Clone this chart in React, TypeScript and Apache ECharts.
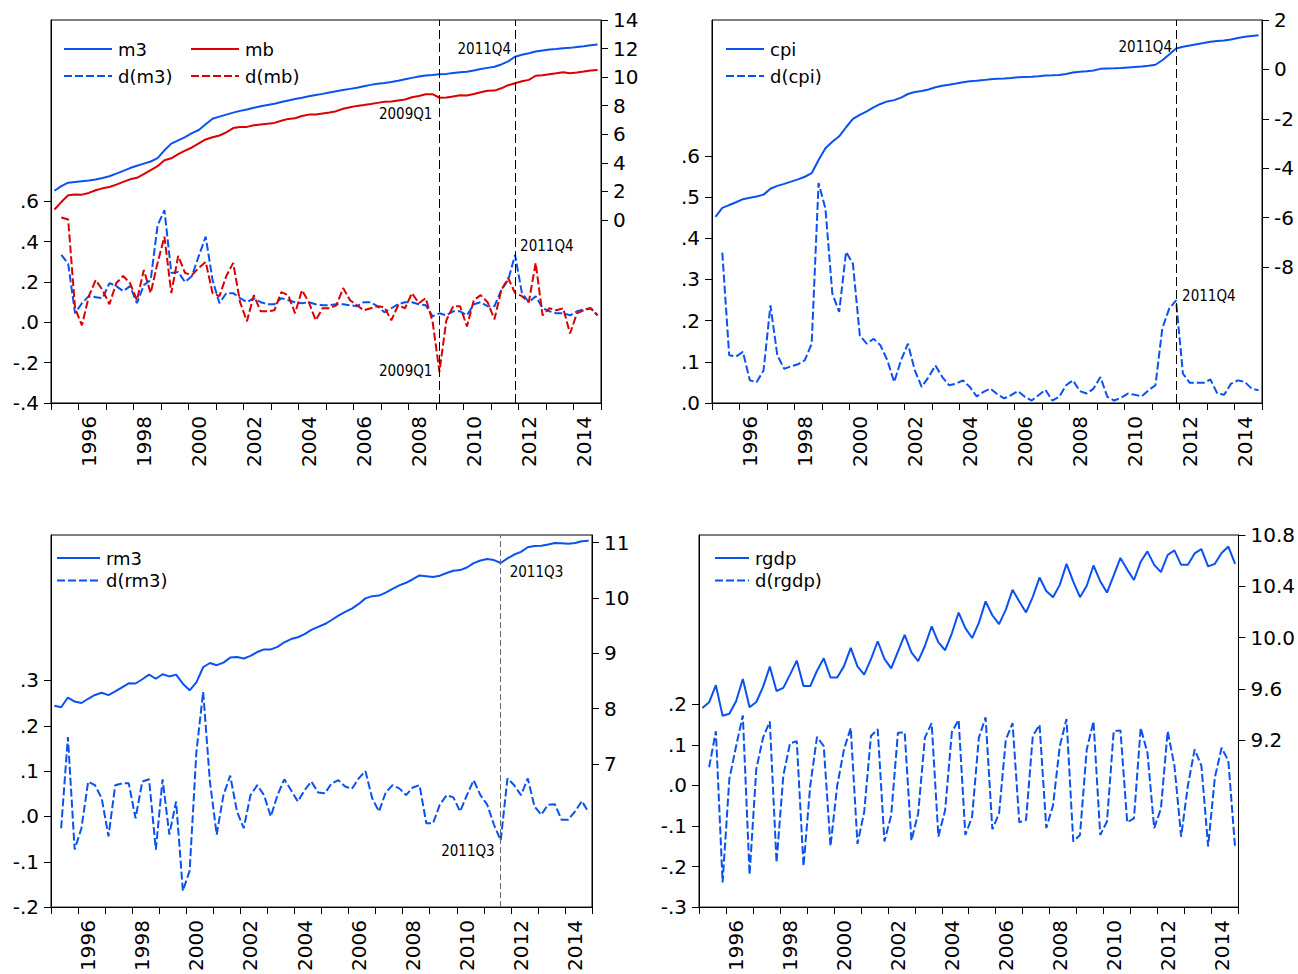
import React, { useEffect, useRef } from "react";
import * as echarts from "echarts";

const QUARTERS: string[] = [];
for (let y = 1995; y <= 2014; y++) for (let q = 1; q <= 4; q++) QUARTERS.push(`${y}Q${q}`);

const M3 = [
  2.05, 2.38, 2.62, 2.67, 2.72, 2.77, 2.84, 2.95, 3.07, 3.25, 3.44, 3.64, 3.8, 3.95, 4.1, 4.33,
  4.88, 5.35, 5.58, 5.81, 6.09, 6.3, 6.7, 7.09, 7.24, 7.38, 7.52, 7.64, 7.74, 7.86, 7.96, 8.05,
  8.14, 8.26, 8.37, 8.47, 8.56, 8.66, 8.75, 8.83, 8.92, 9.01, 9.1, 9.18, 9.26, 9.36, 9.46, 9.54,
  9.59, 9.66, 9.75, 9.85, 9.95, 10.04, 10.12, 10.15, 10.2, 10.23, 10.29, 10.34, 10.38, 10.47, 10.57, 10.65,
  10.73, 10.89, 11.1, 11.43, 11.57, 11.67, 11.8, 11.87, 11.93, 11.97, 12.02, 12.05, 12.11, 12.17, 12.24, 12.28,
];
const MB = [
  0.74, 1.26, 1.74, 1.79, 1.78, 1.9, 2.09, 2.22, 2.31, 2.48, 2.67, 2.85, 2.96, 3.22, 3.49, 3.77,
  4.19, 4.32, 4.62, 4.86, 5.08, 5.36, 5.64, 5.79, 5.92, 6.14, 6.44, 6.52, 6.52, 6.64, 6.69, 6.74,
  6.8, 6.95, 7.08, 7.12, 7.28, 7.38, 7.39, 7.46, 7.53, 7.62, 7.79, 7.9, 7.99, 8.05, 8.12, 8.2,
  8.28, 8.29, 8.37, 8.44, 8.59, 8.68, 8.8, 8.81, 8.56, 8.57, 8.65, 8.73, 8.71, 8.82, 8.95, 9.05,
  9.06, 9.22, 9.44, 9.58, 9.71, 9.81, 10.1, 10.14, 10.21, 10.27, 10.34, 10.28, 10.33, 10.39, 10.46, 10.5,
];
const D_M3 = [
  null, 0.335, 0.29, 0.045, 0.095, 0.13, 0.125, 0.12, 0.195, 0.18, 0.155, 0.18, 0.095, 0.185, 0.21, 0.48,
  0.557, 0.245, 0.25, 0.2, 0.23, 0.33, 0.425, 0.21, 0.095, 0.145, 0.145, 0.12, 0.1, 0.12, 0.1, 0.09,
  0.09, 0.12, 0.11, 0.1, 0.095, 0.1, 0.09, 0.085, 0.085, 0.09, 0.09, 0.085, 0.08, 0.1, 0.1, 0.08,
  0.05, 0.07, 0.09, 0.1, 0.1, 0.09, 0.085, 0.03, 0.045, 0.035, 0.055, 0.055, 0.035, 0.09, 0.1, 0.08,
  0.08, 0.16, 0.21, 0.335, 0.145, 0.1, 0.13, 0.07, 0.055, 0.045, 0.045, 0.035, 0.055, 0.065, 0.07, 0.035,
];
const D_MB = [
  null, 0.52, 0.51, 0.07, -0.015, 0.13, 0.21, 0.16, 0.09, 0.195, 0.23, 0.195, 0.11, 0.26, 0.145, 0.295,
  0.425, 0.145, 0.33, 0.245, 0.235, 0.27, 0.3, 0.145, 0.13, 0.23, 0.295, 0.1, 0.005, 0.135, 0.055, 0.055,
  0.06, 0.15, 0.135, 0.045, 0.16, 0.1, 0.01, 0.07, 0.07, 0.085, 0.17, 0.11, 0.085, 0.06, 0.07, 0.08,
  0.075, 0.01, 0.085, 0.07, 0.145, 0.095, 0.12, 0.005, -0.245, 0.01, 0.08, 0.08, -0.02, 0.11, 0.135, 0.1,
  0.015, 0.16, 0.22, 0.145, 0.13, 0.1, 0.295, 0.035, 0.07, 0.06, 0.07, -0.055, 0.045, 0.06, 0.07, 0.035,
];
const CPI = [
  -5.97, -5.605, -5.489, -5.376, -5.252, -5.197, -5.146, -5.067, -4.83, -4.714, -4.631, -4.542, -4.448, -4.344, -4.2, -3.666,
  -3.194, -2.928, -2.707, -2.34, -2.002, -1.838, -1.694, -1.538, -1.398, -1.294, -1.243, -1.139, -0.995, -0.916, -0.877, -0.814,
  -0.723, -0.66, -0.617, -0.57, -0.515, -0.476, -0.46, -0.433, -0.398, -0.377, -0.366, -0.347, -0.318, -0.303, -0.297, -0.278,
  -0.246, -0.24, -0.225, -0.182, -0.127, -0.098, -0.075, -0.04, 0.023, 0.038, 0.044, 0.057, 0.08, 0.1, 0.116, 0.147,
  0.19, 0.371, 0.6, 0.849, 0.92, 0.969, 1.018, 1.067, 1.124, 1.147, 1.167, 1.214, 1.269, 1.32, 1.355, 1.386,
];
const D_CPI = [
  null, 0.365, 0.116, 0.113, 0.124, 0.055, 0.051, 0.079, 0.237, 0.116, 0.083, 0.089, 0.094, 0.104, 0.144, 0.534,
  0.472, 0.266, 0.221, 0.367, 0.338, 0.164, 0.144, 0.156, 0.14, 0.104, 0.051, 0.104, 0.144, 0.079, 0.039, 0.063,
  0.091, 0.063, 0.043, 0.047, 0.055, 0.039, 0.016, 0.027, 0.035, 0.021, 0.011, 0.019, 0.029, 0.015, 0.006, 0.019,
  0.032, 0.006, 0.015, 0.043, 0.055, 0.029, 0.023, 0.035, 0.063, 0.015, 0.006, 0.013, 0.023, 0.02, 0.016, 0.031,
  0.043, 0.181, 0.229, 0.249, 0.071, 0.049, 0.049, 0.049, 0.057, 0.023, 0.02, 0.047, 0.055, 0.051, 0.035, 0.031,
];
const RM3 = [
  8.05, 8.024, 8.199, 8.126, 8.1, 8.177, 8.246, 8.286, 8.242, 8.311, 8.384, 8.457, 8.453, 8.53, 8.612, 8.539,
  8.621, 8.581, 8.614, 8.45, 8.33, 8.472, 8.747, 8.824, 8.784, 8.831, 8.921, 8.932, 8.906, 8.953, 9.022, 9.069,
  9.069, 9.116, 9.198, 9.256, 9.289, 9.347, 9.424, 9.477, 9.528, 9.601, 9.681, 9.747, 9.808, 9.892, 9.992, 10.032,
  10.043, 10.096, 10.165, 10.227, 10.274, 10.338, 10.407, 10.392, 10.377, 10.403, 10.45, 10.492, 10.503, 10.55, 10.63, 10.677,
  10.703, 10.685, 10.632, 10.716, 10.785, 10.832, 10.916, 10.938, 10.942, 10.968, 10.995, 10.988, 10.981, 10.992, 11.026, 11.035,
];
const D_RM3 = [
  null, -0.026, 0.175, -0.073, -0.026, 0.077, 0.069, 0.04, -0.044, 0.069, 0.073, 0.073, -0.004, 0.077, 0.082, -0.073,
  0.082, -0.04, 0.033, -0.164, -0.12, 0.142, 0.275, 0.077, -0.04, 0.047, 0.09, 0.011, -0.026, 0.047, 0.069, 0.047,
  0.0, 0.047, 0.082, 0.058, 0.033, 0.058, 0.077, 0.053, 0.051, 0.073, 0.08, 0.066, 0.061, 0.084, 0.1, 0.04,
  0.011, 0.053, 0.069, 0.062, 0.047, 0.064, 0.069, -0.015, -0.015, 0.026, 0.047, 0.042, 0.011, 0.047, 0.08, 0.047,
  0.026, -0.018, -0.053, 0.084, 0.069, 0.047, 0.084, 0.022, 0.004, 0.026, 0.027, -0.007, -0.007, 0.011, 0.034, 0.009,
];
const RGDP = [
  9.45, 9.495, 9.629, 9.39, 9.406, 9.503, 9.676, 9.456, 9.497, 9.615, 9.773, 9.583, 9.607, 9.711, 9.82, 9.621,
  9.621, 9.741, 9.838, 9.688, 9.688, 9.777, 9.919, 9.775, 9.71, 9.832, 9.971, 9.833, 9.76, 9.89, 10.021, 9.885,
  9.816, 9.934, 10.088, 9.962, 9.901, 10.033, 10.195, 10.073, 9.996, 10.114, 10.282, 10.174, 10.105, 10.218, 10.372, 10.281,
  10.196, 10.318, 10.468, 10.363, 10.314, 10.411, 10.575, 10.437, 10.315, 10.404, 10.562, 10.44, 10.351, 10.485, 10.621, 10.53,
  10.449, 10.591, 10.672, 10.567, 10.51, 10.644, 10.68, 10.567, 10.567, 10.656, 10.69, 10.555, 10.575, 10.66, 10.71, 10.575,
];
const D_RGDP = [
  null, 0.045, 0.134, -0.239, 0.016, 0.097, 0.173, -0.22, 0.041, 0.118, 0.158, -0.19, 0.024, 0.104, 0.109, -0.199,
  0.0, 0.12, 0.097, -0.15, 0.0, 0.089, 0.142, -0.144, -0.065, 0.122, 0.139, -0.138, -0.073, 0.13, 0.131, -0.136,
  -0.069, 0.118, 0.154, -0.126, -0.061, 0.132, 0.162, -0.122, -0.077, 0.118, 0.168, -0.108, -0.069, 0.113, 0.154, -0.091,
  -0.085, 0.122, 0.15, -0.105, -0.049, 0.097, 0.164, -0.138, -0.122, 0.089, 0.158, -0.122, -0.089, 0.134, 0.136, -0.091,
  -0.081, 0.142, 0.081, -0.105, -0.057, 0.134, 0.049, -0.126, 0.0, 0.089, 0.049, -0.15, 0.02, 0.093, 0.061, -0.154,
];

const LEFT_TICKS_1 = [-0.4, -0.2, 0, 0.2, 0.4, 0.6];
const RIGHT_TICKS_1 = [0, 2, 4, 6, 8, 10, 12, 14];
const LEFT_TICKS_2 = [0, 0.1, 0.2, 0.3, 0.4, 0.5, 0.6];
const RIGHT_TICKS_2 = [-8, -6, -4, -2, 0, 2];
const LEFT_TICKS_3 = [-0.2, -0.1, 0, 0.1, 0.2, 0.3];
const RIGHT_TICKS_3 = [7, 8, 9, 10, 11];
const LEFT_TICKS_4 = [-0.3, -0.2, -0.1, 0, 0.1, 0.2];
const RIGHT_TICKS_4 = [9.2, 9.6, 10.0, 10.4, 10.8];

const BLUE = "#0A52F0";
const RED = "#DA0000";
const FONT = "'DejaVu Sans', Verdana, sans-serif";
const NARROW = "'DejaVu Sans Condensed', 'Liberation Sans Narrow', sans-serif";
const DASH = [8, 3];

const fmtLeft = (v: number) => {
  const s = Math.abs(v).toFixed(1).replace(/^0/, "");
  return (v < -1e-9 ? "-" : "") + s;
};

function xAxis(gridIndex: number) {
  return {
    type: "category",
    gridIndex,
    data: QUARTERS,
    boundaryGap: true,
    axisLine: { show: true, onZero: false, lineStyle: { color: "#000", width: 1 } },
    axisTick: { show: true, interval: (i: number) => i % 4 === 0, length: 7, lineStyle: { color: "#000", width: 1 } },
    axisLabel: {
      interval: (i: number, v: string) => v.endsWith("Q2") && Number(v.slice(0, 4)) % 2 === 0,
      formatter: (v: string) => v.slice(0, 4),
      rotate: 90,
      margin: 13,
      fontSize: 20,
      fontFamily: FONT,
      color: "#000",
    },
    splitLine: { show: false },
  };
}

function yAxis(gridIndex: number, position: "left" | "right", min: number, max: number, ticks: number[], fmt: (v: number) => string) {
  return {
    type: "value",
    gridIndex,
    position,
    min,
    max,
    axisLine: { show: true, onZero: false, lineStyle: { color: "#000", width: 1 } },
    axisTick: { show: true, customValues: ticks, length: 7, lineStyle: { color: "#000", width: 1 } },
    axisLabel: { customValues: ticks, formatter: fmt, margin: 12, fontSize: 20, fontFamily: FONT, color: "#000" },
    splitLine: { show: false },
  };
}

function solid(name: string, data: any[], xi: number, yi: number, color: string, extra: any = {}) {
  return {
    type: "line", name, data, xAxisIndex: xi, yAxisIndex: yi, symbol: "none", showSymbol: false,
    lineStyle: { color, width: 2 }, itemStyle: { color }, z: 3, ...extra,
  };
}
function dashed(name: string, data: any[], xi: number, yi: number, color: string, extra: any = {}) {
  return {
    type: "line", name, data, xAxisIndex: xi, yAxisIndex: yi, symbol: "none", showSymbol: false,
    lineStyle: { color, width: 2, type: DASH }, itemStyle: { color }, z: 4, ...extra,
  };
}

function annot(text: string, q: string, v: number, position: string, distance: number, offset: number[]) {
  return {
    coord: [q, v],
    symbol: "circle",
    symbolSize: 0,
    itemStyle: { color: "transparent" },
    label: { show: true, formatter: text, position, distance, offset, fontSize: 15, fontFamily: NARROW, color: "#000" },
  };
}
function markPts(items: any[]) {
  return { silent: true, symbolSize: 0, data: items };
}
function vlines(qs: string[], color: string, type: number[]) {
  return {
    silent: true,
    symbol: ["none", "none"],
    label: { show: false },
    lineStyle: { color, width: 1, type },
    emphasis: { disabled: true },
    data: qs.map((q) => ({ xAxis: q })),
  };
}

function legend(data: string[], left: number, top: number, itemWidth: number, itemGap: number) {
  return {
    data,
    orient: "vertical",
    left,
    top,
    itemWidth,
    itemHeight: 14,
    itemGap,
    padding: 0,
    selectedMode: false,
    itemStyle: { color: "transparent", borderWidth: 0, opacity: 0 },
    textStyle: { fontSize: 18, fontFamily: FONT, color: "#000", lineHeight: 20, padding: [0, 0, 0, 1] },
  };
}

export default function App() {
  const ref = useRef<HTMLDivElement>(null);
  useEffect(() => {
    document.body.style.margin = "0";
    const chart = echarts.init(ref.current!, undefined, { renderer: "svg" });
    const grids = [
      { left: 51, top: 20, width: 550, height: 383 },
      { left: 712, top: 20, width: 550, height: 383 },
      { left: 51, top: 535, width: 541, height: 375 },
      { left: 699, top: 535, width: 543, height: 375 },
    ].map((g) => ({ ...g, show: true, borderColor: "#000", borderWidth: 1, backgroundColor: "transparent" }));

    const option: any = {
      animation: false,
      backgroundColor: "#fff",
      grid: grids,
      legend: [
        legend(["m3", "d(m3)"], 63, 39, 48, 7),
        legend(["mb", "d(mb)"], 190, 39, 48, 7),
        legend(["cpi", "d(cpi)"], 725, 39, 38, 7),
        legend(["rm3", "d(rm3)"], 56, 548, 43, 2.5),
        legend(["rgdp", "d(rgdp)"], 714, 548, 34, 2.5),
      ],
      xAxis: [xAxis(0), xAxis(1), xAxis(2), xAxis(3)],
      yAxis: [
        yAxis(0, "left", -0.4, 1.5, LEFT_TICKS_1, fmtLeft),
        yAxis(0, "right", -12.8, 14, RIGHT_TICKS_1, (v) => String(v)),
        yAxis(1, "left", 0, 0.93, LEFT_TICKS_2, fmtLeft),
        yAxis(1, "right", -13.5, 2, RIGHT_TICKS_2, (v) => String(v)),
        yAxis(2, "left", -0.2, 0.621, LEFT_TICKS_3, fmtLeft),
        yAxis(2, "right", 4.41, 11.138, RIGHT_TICKS_3, (v) => String(v)),
        yAxis(3, "left", -0.3, 0.618, LEFT_TICKS_4, fmtLeft),
        yAxis(3, "right", 7.897, 10.8, RIGHT_TICKS_4, (v) => v.toFixed(1)),
      ],
      series: [
        solid("m3", M3, 0, 1, BLUE, {
          markLine: vlines(["2009Q1", "2011Q4"], "#000", [9, 4]),
          markPoint: markPts([annot("2011Q4", "2011Q4", 11.43, "left", 4, [0, -8])]),
        }),
        solid("mb", MB, 0, 1, RED, {
          markPoint: markPts([annot("2009Q1", "2009Q1", 8.56, "left", 7, [0, 16])]),
        }),
        dashed("d(m3)", D_M3, 0, 0, BLUE, {
          markPoint: markPts([annot("2011Q4", "2011Q4", 0.335, "right", 5, [0, -9])]),
        }),
        dashed("d(mb)", D_MB, 0, 0, RED, {
          markPoint: markPts([annot("2009Q1", "2009Q1", -0.245, "left", 7, [0, -1])]),
        }),
        solid("cpi", CPI, 1, 3, BLUE, {
          markLine: vlines(["2011Q4"], "#000", [9, 4]),
          markPoint: markPts([annot("2011Q4", "2011Q4", 0.849, "left", 4, [0, -1])]),
        }),
        dashed("d(cpi)", D_CPI, 1, 2, BLUE, {
          markPoint: markPts([annot("2011Q4", "2011Q4", 0.249, "right", 6, [0, -4])]),
        }),
        solid("rm3", RM3, 2, 5, BLUE, {
          markLine: vlines(["2011Q3"], "#666", [6, 3]),
          markPoint: markPts([annot("2011Q3", "2011Q3", 10.632, "right", 9, [0, 9])]),
        }),
        dashed("d(rm3)", D_RM3, 2, 4, BLUE, {
          markPoint: markPts([annot("2011Q3", "2011Q3", -0.053, "left", 6, [0, 11])]),
        }),
        solid("rgdp", RGDP, 3, 7, BLUE),
        dashed("d(rgdp)", D_RGDP, 3, 6, BLUE),
      ],
    };
    chart.setOption(option);
    return () => chart.dispose();
  }, []);
  return <div ref={ref} style={{ position: "absolute", left: 0, top: 0, width: 1298, height: 974 }} />;
}
